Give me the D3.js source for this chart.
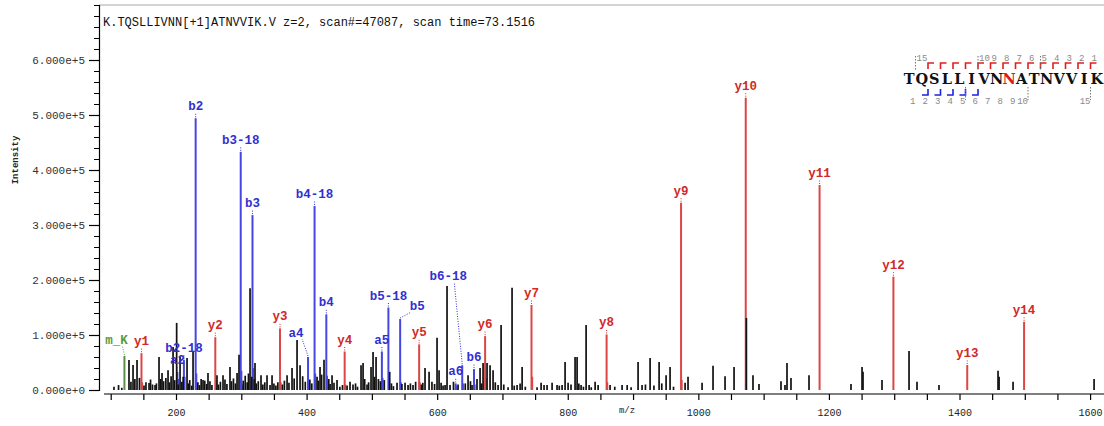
<!DOCTYPE html>
<html>
<head>
<meta charset="utf-8">
<script src="https://cdn.jsdelivr.net/npm/d3@7"></script>
<style>
  body { margin: 0; background: #fff; }
  svg { display: block; }
</style>
</head>
<body>
<svg id="chart" width="1104" height="426"></svg>
<script>
// ---- spectrum metadata ----
const titleText = "K.TQSLLIVNN[+1]ATNVVIK.V z=2, scan#=47087, scan time=73.1516";
const sequence = "TQSLLIVNNATNVVIK";
const modifiedIndex = 8;                 // N[+1]
const observedB = [2, 3, 4, 5, 6];
const observedY = [1, 2, 3, 4, 5, 6, 7, 8, 9, 10, 11, 12, 13, 14];

// ---- axis ticks ----
const yTickValues = [0, 100000, 200000, 300000, 400000, 500000, 600000];
const xTickLabels = [200, 400, 600, 800, 1000, 1200, 1400, 1600];

// ---- annotated fragment ions ----
const ionLabels = ["m_K", "y1", "a2", "b2-18", "b2", "y2", "b3-18", "b3", "y3", "a4",
  "b4-18", "b4", "y4", "a5", "b5-18", "b5", "y5", "a6", "b6-18", "b6",
  "y6", "y7", "y8", "y9", "y10", "y11", "y12", "y13", "y14"];
const ionMz = [121.0, 147.11, 202.12, 212.10, 230.11, 260.20, 299.13, 317.15, 359.27, 402.23,
  412.22, 430.23, 458.33, 515.32, 525.30, 543.31, 572.38, 628.40, 638.39, 656.40,
  673.42, 744.46, 859.49, 973.53, 1072.60, 1185.68, 1298.77, 1411.85, 1498.88];
const ionIntensity = [62000, 67000, 33000, 55000, 494000, 96000, 433000, 318000, 112000, 60000,
  334500, 137600, 70000, 70000, 150000, 129000, 83000, 12000, 45000, 38000,
  98000, 154500, 101000, 340500, 531500, 372700, 206000, 45500, 124000];
const ionSeries = ["m", "y", "b", "b", "b", "y", "b", "b", "y", "b",
  "b", "b", "y", "b", "b", "b", "y", "b", "b", "b",
  "y", "y", "y", "y", "y", "y", "y", "y", "y"];

// ---- unassigned peaks ----
const peakMz = [128.0, 134.2, 140.3, 158.7, 167.9, 174.0, 178.6, 187.8, 195.5, 201.0,
  206.2, 216.9, 226.1, 241.4, 249.0, 262.8, 272.0, 282.7, 293.5, 296.5,
  313.4, 321.0, 330.2, 339.4, 347.1, 370.1, 377.7, 385.4, 390.0, 420.6,
  426.7, 439.0, 446.6, 466.5, 471.1, 483.4, 486.5, 492.6, 498.7, 501.8,
  506.4, 527.3, 538.5, 550.8, 555.4, 563.0, 581.4, 587.6, 599.8, 602.9,
  612.1, 615.1, 619.7, 647.3, 653.4, 665.7, 670.3, 676.4, 681.0, 685.6,
  693.3, 697.9, 708.6, 714.7, 722.4, 730.1, 759.2, 763.7, 768.3, 776.0,
  783.6, 791.3, 795.9, 800.5, 811.2, 814.3, 820.4, 828.1, 832.7, 841.9,
  846.5, 864.8, 883.2, 891.0, 907.7, 913.8, 926.1, 939.9, 950.6, 956.7,
  979.7, 984.2, 1005.7, 1022.5, 1040.9, 1054.7, 1073.6, 1083.7, 1092.9, 1126.6,
  1132.7, 1135.8, 1141.9, 1169.5, 1233.8, 1250.7, 1252.2, 1281.3, 1322.7, 1334.9,
  1368.6, 1459.0, 1460.6, 1482.0, 1606.1,
  105, 112, 117, 131, 137, 144, 151, 154, 161, 164,
  170, 176.5, 181, 184.5, 190, 192.5, 198, 203.5, 209, 211,
  219, 221, 224, 233.5, 236, 238.5, 244, 247, 252, 255,
  265, 268, 275, 278, 285, 288, 291, 303, 306, 309,
  311, 316, 320, 323, 326, 333, 336, 344, 350, 353,
  356, 363, 366, 373, 381, 394, 398, 405, 408, 416,
  418, 423, 434, 436, 442, 451, 455, 462, 475, 478,
  489, 495, 504, 510, 513, 519, 530, 533, 546, 559,
  567, 576, 578, 592, 596, 606, 609, 625, 632, 643,
  651, 661, 668, 689, 702, 718, 727, 735, 753, 787,
  805, 817, 824, 836, 872, 897, 919, 932, 944, 962];
const peakIntensity = [54500, 45500, 54500, 12700, 9000, 60000, 31000, 36000, 78000, 122000,
  60000, 58000, 71000, 18000, 31000, 27000, 27000, 42000, 31000, 64000,
  185000, 49000, 27000, 27000, 27000, 27000, 40000, 91000, 45000, 42000,
  55000, 27000, 18000, 15000, 10000, 45000, 49000, 10000, 42000, 69000,
  60000, 33000, 13000, 13000, 9000, 9000, 40000, 33000, 95000, 36000,
  9000, 189000, 9000, 27000, 9000, 40000, 49000, 49000, 45000, 36000,
  9000, 118000, 5000, 186000, 9000, 42000, 13000, 9000, 9000, 13000,
  9000, 9000, 51000, 13000, 60000, 60000, 9000, 118000, 9000, 15000,
  9000, 9000, 9000, 9000, 51000, 9000, 58000, 51000, 27000, 42000,
  13000, 24000, 13000, 44000, 25000, 42000, 131000, 27000, 11000, 16000,
  9000, 49000, 22000, 27000, 11000, 42000, 33000, 18000, 71000, 15000,
  9000, 35000, 24000, 15000, 20000,
  6000, 9000, 4000, 15000, 20000, 22000, 8000, 14000, 19000, 10000,
  12000, 20000, 16000, 22000, 14000, 25000, 18000, 10000, 15000, 24000,
  12000, 18000, 8000, 14000, 9000, 20000, 17000, 11000, 16000, 9000,
  10000, 15000, 19000, 11000, 16000, 21000, 12000, 17000, 26000, 14000,
  30000, 24000, 20000, 12000, 16000, 10000, 14000, 9000, 12000, 8000,
  14000, 10000, 17000, 13000, 21000, 25000, 15000, 19000, 12000, 24000,
  17000, 28000, 20000, 11000, 13000, 6000, 9000, 8000, 12000, 6000,
  20000, 14000, 24000, 20000, 16000, 18000, 12000, 7000, 11000, 12000,
  15000, 10000, 13000, 15000, 11000, 13000, 8000, 15000, 10000, 12000,
  16000, 20000, 12000, 14000, 10000, 8000, 12000, 6000, 5000, 8000,
  10000, 12000, 6000, 5000, 6000, 5000, 10000, 8000, 12000, 6000];

// ---- isotope peaks of assigned ions (coloured, unlabelled) ----
const isotopeMz = [203.1, 213.1, 231.1, 232.1, 300.1, 301.1, 318.1, 319.1, 403.2, 413.2,
  431.2, 516.3, 526.3, 544.3, 629.4, 639.4, 657.4,
  148.1, 261.2, 360.3, 459.3, 573.4, 674.4, 745.5, 860.5, 974.5];
const isotopeIntensity = [20000, 24000, 30000, 12000, 35000, 10000, 40000, 15000, 18000, 30000,
  26000, 22000, 22000, 14000, 8000, 12000, 10000,
  14000, 18000, 14000, 10000, 14000, 22000, 24000, 14000, 18000];
const isotopeSeries = ["b", "b", "b", "b", "b", "b", "b", "b", "b", "b",
  "b", "b", "b", "b", "b", "b", "b",
  "y", "y", "y", "y", "y", "y", "y", "y", "y"];

// ---- drawing ----
const W = 1104, H = 426;
const svg = d3.select("#chart");
const mono = "'Liberation Mono', 'DejaVu Sans Mono', monospace";

const lineColor = { b: "#4646e0", y: "#dc4646", m: "#5d8f4a" };
const textColor = { b: "#3030d2", y: "#d02a2a", m: "#5a9a3c" };

const x = d3.scaleLinear().domain([83.6, 1621.3]).range([100, W]);
const y = d3.scaleLinear().domain([0, 700000]).range([390, 5]);

// frame top and title
svg.append("line").attr("x1", 99).attr("x2", W).attr("y1", 5).attr("y2", 5)
  .attr("stroke", "#a8a8a8").attr("stroke-width", 1);
svg.append("text").attr("x", 103).attr("y", 26)
  .attr("font-family", mono).attr("font-size", 12).attr("fill", "#111")
  .text(titleText);

// y axis: minor then major ticks
const yMinor = svg.append("g").attr("transform", "translate(99,0)")
  .call(d3.axisLeft(y).tickValues(d3.range(0, 700001, 20000)).tickSize(5).tickFormat(""));
yMinor.select(".domain").attr("stroke", "#000").attr("stroke-width", 1.2);
yMinor.selectAll(".tick line").attr("stroke", "#000");
const fmt = v => (v / 100000).toFixed(3) + "e+" + (v === 0 ? 0 : 5);
const yMajor = svg.append("g").attr("transform", "translate(99,0)")
  .call(d3.axisLeft(y).tickValues(yTickValues).tickSize(10).tickPadding(4).tickFormat(fmt));
yMajor.select(".domain").remove();
yMajor.selectAll(".tick line").attr("stroke", "#000").attr("stroke-width", 1.2);
yMajor.selectAll(".tick text").attr("font-family", mono).attr("font-size", 11)
  .attr("fill", "#333");

svg.append("text")
  .attr("transform", "translate(18,160) rotate(-90)")
  .attr("text-anchor", "middle")
  .attr("font-family", mono).attr("font-size", 9).attr("font-weight", "bold")
  .attr("fill", "#222").text("Intensity");

// x axis
const xAxisY = 394;
const xg = svg.append("g").attr("transform", `translate(0,${xAxisY})`)
  .call(d3.axisBottom(x).tickValues(d3.range(100, 1601, 50)).tickSize(6).tickPadding(9)
    .tickFormat(d => xTickLabels.includes(d) ? d : ""));
xg.select(".domain").remove();
xg.selectAll(".tick line").attr("stroke", "#000").attr("stroke-width", 1.2);
xg.selectAll(".tick text").attr("font-family", mono).attr("font-size", 10).attr("fill", "#222");
svg.append("line").attr("x1", 104).attr("x2", W).attr("y1", xAxisY).attr("y2", xAxisY)
  .attr("stroke", "#000").attr("stroke-width", 1.2);
svg.append("text").attr("x", 627).attr("y", 413).attr("text-anchor", "middle")
  .attr("font-family", mono).attr("font-size", 9).attr("fill", "#222").text("m/z");

// peaks
const peaks = svg.append("g");
const ions = ionLabels.map((label, i) => ({
  label, mz: ionMz[i], intensity: ionIntensity[i], series: ionSeries[i]
}));
const unassigned = peakMz.map((mz, i) => ({ mz, intensity: peakIntensity[i] }));
const isotopes = isotopeMz.map((mz, i) => ({
  mz, intensity: isotopeIntensity[i], series: isotopeSeries[i]
}));

peaks.selectAll("line.ion").data(ions).join("line").attr("class", "ion")
  .attr("x1", d => x(d.mz)).attr("x2", d => x(d.mz))
  .attr("y1", y(0)).attr("y2", d => y(d.intensity))
  .attr("stroke", d => lineColor[d.series]).attr("stroke-width", 2);

peaks.selectAll("line.iso").data(isotopes).join("line").attr("class", "iso")
  .attr("x1", d => x(d.mz)).attr("x2", d => x(d.mz))
  .attr("y1", y(0)).attr("y2", d => y(d.intensity))
  .attr("stroke", d => lineColor[d.series]).attr("stroke-width", 2);

peaks.selectAll("line.raw").data(unassigned).join("line").attr("class", "raw")
  .attr("x1", d => x(d.mz)).attr("x2", d => x(d.mz))
  .attr("y1", y(0)).attr("y2", d => y(d.intensity))
  .attr("stroke", "#111").attr("stroke-width", 1.7);

// ion labels with dotted leaders
const labelShift = { "m_K": [-8, -4], "a4": [-12, -12], "b5": [17, -1], "b6-18": [-14, -77] };
const labels = svg.append("g");
ions.forEach(d => {
  const px = x(d.mz), top = y(d.intensity);
  const [dx, dy] = labelShift[d.label] || [0, 0];
  const lx = px + dx, base = top - 8 + dy;
  const leaderEndX = dx === 0 ? px : lx - Math.sign(dx) * 6;
  labels.append("line")
    .attr("x1", px).attr("y1", top - 1)
    .attr("x2", leaderEndX).attr("y2", base + 2)
    .attr("stroke", textColor[d.series]).attr("stroke-width", 1)
    .attr("stroke-dasharray", "1,1.5");
  labels.append("text").attr("x", lx).attr("y", base)
    .attr("text-anchor", "middle")
    .attr("font-family", mono).attr("font-size", 12.5).attr("font-weight", "bold")
    .attr("fill", textColor[d.series]).text(d.label);
});

// peptide fragmentation map
const seqX0 = 903, pitch = 12.5, seqBase = 84;
const pep = svg.append("g");
sequence.split("").forEach((ch, i) => {
  pep.append("text").attr("x", seqX0 + pitch * i + pitch / 2).attr("y", seqBase)
    .attr("text-anchor", "middle")
    .attr("font-family", "'DejaVu Serif', serif").attr("font-size", 14.5)
    .attr("font-weight", "bold")
    .attr("fill", i === modifiedIndex ? "#e01818" : "#111").text(ch);
});
const bx = k => seqX0 + pitch * k;
const n = sequence.length;
observedY.forEach(v => {
  const k = n - v;
  pep.append("path").attr("d", `M${bx(k)},69V63H${bx(k) + 6}`)
    .attr("fill", "none").attr("stroke", "#e02020").attr("stroke-width", 1.6);
});
observedB.forEach(k => {
  pep.append("path").attr("d", `M${bx(k)},89V95H${bx(k) - 6}`)
    .attr("fill", "none").attr("stroke", "#2020e0").attr("stroke-width", 1.6);
});
// y-ion numbering above, b-ion numbering below
d3.range(1, n).forEach(k => {
  const yIdx = n - k;
  if (yIdx <= 10 || yIdx === 15) {
    pep.append("text").attr("x", bx(k) + 1).attr("y", 61)
      .attr("font-family", mono).attr("font-size", 9).attr("fill", "#8a8a8a").text(yIdx);
  }
  if (yIdx % 5 === 0) {
    pep.append("line").attr("x1", bx(k)).attr("x2", bx(k)).attr("y1", 56).attr("y2", 71)
      .attr("stroke", "#777").attr("stroke-dasharray", "1.5,1.5");
  }
  if (k <= 10 || k === 15) {
    pep.append("text").attr("x", bx(k)).attr("y", 104).attr("text-anchor", "end")
      .attr("font-family", mono).attr("font-size", 9).attr("fill", "#8a8a8a").text(k);
  }
  if (k % 5 === 0) {
    pep.append("line").attr("x1", bx(k)).attr("x2", bx(k)).attr("y1", 87).attr("y2", 100)
      .attr("stroke", "#777").attr("stroke-dasharray", "1.5,1.5");
  }
});
</script>
</body>
</html>
